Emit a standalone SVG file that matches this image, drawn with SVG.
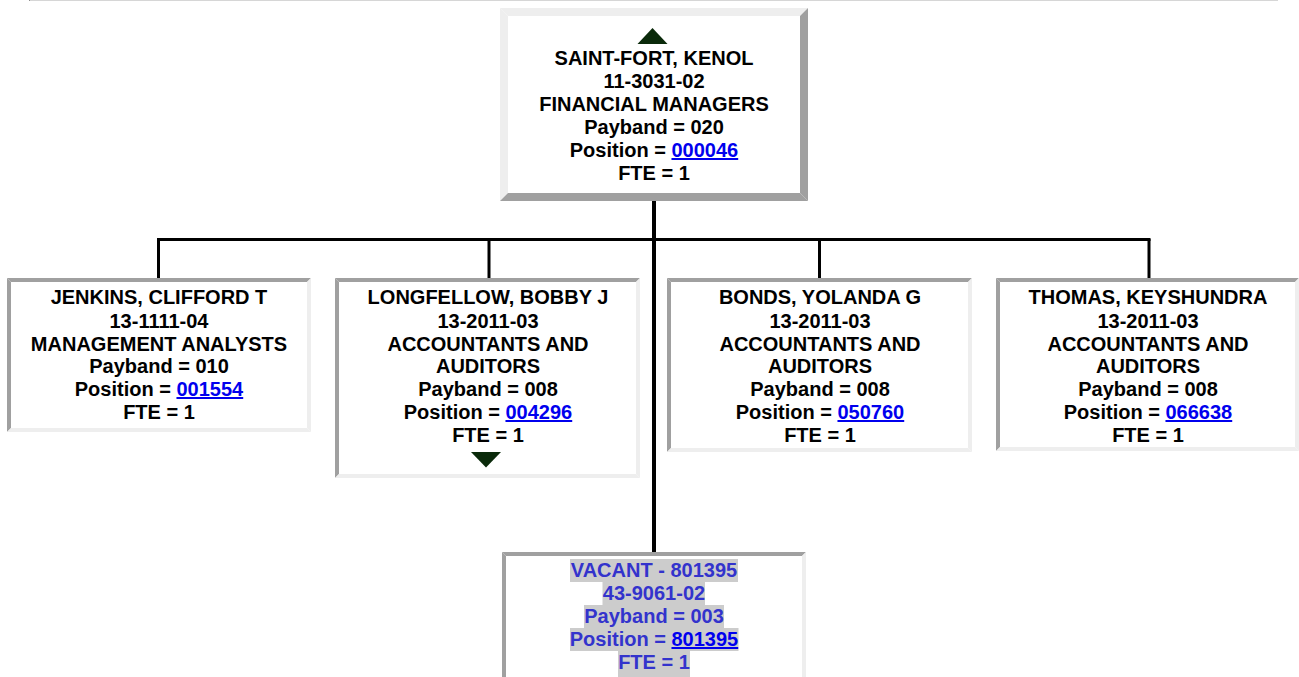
<svg xmlns="http://www.w3.org/2000/svg" width="1299" height="677" viewBox="0 0 1299 677">
<style>
  text { font-family: "Liberation Sans", Arial, sans-serif; font-weight: bold; font-size: 20px; fill: #000; text-anchor: middle; }
  .lnk { fill: #0000ee; text-decoration: underline; }
  .vac { fill: #3333cc; }
  .hl { fill: #cccccc; }
  .lt { fill: #eeeeee; }
  .dk { fill: #a0a0a0; }
  .tri { fill: #0a2a0a; }
  .conn { stroke: #000; fill: none; }
</style>
<rect x="0" y="0" width="1299" height="677" fill="#ffffff"/>
<rect x="29" y="0" width="1249" height="1" fill="#d6d6d6"/>
<rect x="29" y="0" width="1" height="1" fill="#909090"/>

<g id="connectors">
  <line class="conn" x1="654" y1="200" x2="654" y2="553" stroke-width="4"/>
  <line class="conn" x1="157" y1="239.5" x2="1150.5" y2="239.5" stroke-width="3"/>
  <line class="conn" x1="158.5" y1="239" x2="158.5" y2="279" stroke-width="3"/>
  <line class="conn" x1="489" y1="239" x2="489" y2="279" stroke-width="3"/>
  <line class="conn" x1="819.5" y1="239" x2="819.5" y2="279" stroke-width="3"/>
  <line class="conn" x1="1149" y1="239" x2="1149" y2="279" stroke-width="3"/>
</g>

<g id="node-saint-fort">
  <rect x="500" y="8" width="308" height="193" fill="#fff"/>
  <polygon class="lt" points="500,8 808,8 800,16 508,16"/>
  <polygon class="lt" points="500,8 508,16 508,193 500,201"/>
  <polygon class="dk" points="808,8 808,201 800,193 800,16"/>
  <polygon class="dk" points="500,201 808,201 800,193 508,193"/>
  <polygon class="tri" points="652.5,28 637.5,44 667.5,44"/>
  <text x="654" y="65">SAINT-FORT, KENOL</text>
  <text x="654" y="88">11-3031-02</text>
  <text x="654" y="111">FINANCIAL MANAGERS</text>
  <text x="654" y="134">Payband = 020</text>
  <text x="654" y="157">Position = <tspan class="lnk">000046</tspan></text>
  <text x="654" y="179.5">FTE = 1</text>
</g>

<g id="node-jenkins">
  <rect x="7" y="278" width="304" height="154" fill="#fff"/>
  <polygon class="dk" points="7,278 311,278 307,282 11,282"/>
  <polygon class="dk" points="7,278 11,282 11,428 7,432"/>
  <polygon class="lt" points="311,278 311,432 307,428 307,282"/>
  <polygon class="lt" points="7,432 311,432 307,428 11,428"/>
  <text x="159" y="304">JENKINS, CLIFFORD T</text>
  <text x="159" y="327.5">13-1111-04</text>
  <text x="159" y="350.5">MANAGEMENT ANALYSTS</text>
  <text x="159" y="373.3">Payband = 010</text>
  <text x="159" y="396">Position = <tspan class="lnk">001554</tspan></text>
  <text x="159" y="419">FTE = 1</text>
</g>

<g id="node-longfellow">
  <rect x="335" y="278" width="305" height="200" fill="#fff"/>
  <polygon class="dk" points="335,278 640,278 636,282 339,282"/>
  <polygon class="dk" points="335,278 339,282 339,474 335,478"/>
  <polygon class="lt" points="640,278 640,478 636,474 636,282"/>
  <polygon class="lt" points="335,478 640,478 636,474 339,474"/>
  <text x="488" y="304">LONGFELLOW, BOBBY J</text>
  <text x="488" y="327.5">13-2011-03</text>
  <text x="488" y="350.5">ACCOUNTANTS AND</text>
  <text x="488" y="373.3">AUDITORS</text>
  <text x="488" y="396">Payband = 008</text>
  <text x="488" y="419">Position = <tspan class="lnk">004296</tspan></text>
  <text x="488" y="442">FTE = 1</text>
  <polygon class="tri" points="471,452 501,452 486,467.5"/>
</g>

<g id="node-bonds">
  <rect x="667" y="278" width="305" height="174" fill="#fff"/>
  <polygon class="dk" points="667,278 972,278 968,282 671,282"/>
  <polygon class="dk" points="667,278 671,282 671,448 667,452"/>
  <polygon class="lt" points="972,278 972,452 968,448 968,282"/>
  <polygon class="lt" points="667,452 972,452 968,448 671,448"/>
  <text x="820" y="304">BONDS, YOLANDA G</text>
  <text x="820" y="327.5">13-2011-03</text>
  <text x="820" y="350.5">ACCOUNTANTS AND</text>
  <text x="820" y="373.3">AUDITORS</text>
  <text x="820" y="396">Payband = 008</text>
  <text x="820" y="419">Position = <tspan class="lnk">050760</tspan></text>
  <text x="820" y="442">FTE = 1</text>
</g>

<g id="node-thomas">
  <rect x="996" y="278" width="303" height="173" fill="#fff"/>
  <polygon class="dk" points="996,278 1299,278 1295,282 1000,282"/>
  <polygon class="dk" points="996,278 1000,282 1000,447 996,451"/>
  <polygon class="lt" points="1299,278 1299,451 1295,447 1295,282"/>
  <polygon class="lt" points="996,451 1299,451 1295,447 1000,447"/>
  <text x="1148" y="304">THOMAS, KEYSHUNDRA</text>
  <text x="1148" y="327.5">13-2011-03</text>
  <text x="1148" y="350.5">ACCOUNTANTS AND</text>
  <text x="1148" y="373.3">AUDITORS</text>
  <text x="1148" y="396">Payband = 008</text>
  <text x="1148" y="419">Position = <tspan class="lnk">066638</tspan></text>
  <text x="1148" y="442">FTE = 1</text>
</g>

<g id="node-vacant">
  <rect x="502" y="552" width="304" height="140" fill="#fff"/>
  <polygon class="dk" points="502,552 806,552 802,556 506,556"/>
  <polygon class="dk" points="502,552 506,556 506,690 502,690"/>
  <polygon class="lt" points="806,552 806,690 802,690 802,556"/>
  <rect class="hl" x="570" y="559" width="168" height="23"/>
  <rect class="hl" x="602.5" y="582" width="102.5" height="23"/>
  <rect class="hl" x="584" y="605" width="140" height="23"/>
  <rect class="hl" x="570" y="628" width="168.5" height="23"/>
  <rect class="hl" x="618" y="651" width="72" height="26"/>
  <text class="vac" x="654" y="577">VACANT - 801395</text>
  <text class="vac" x="654" y="600">43-9061-02</text>
  <text class="vac" x="654" y="623">Payband = 003</text>
  <text class="vac" x="654" y="646">Position = <tspan class="lnk">801395</tspan></text>
  <text class="vac" x="654" y="669">FTE = 1</text>
</g>
</svg>
